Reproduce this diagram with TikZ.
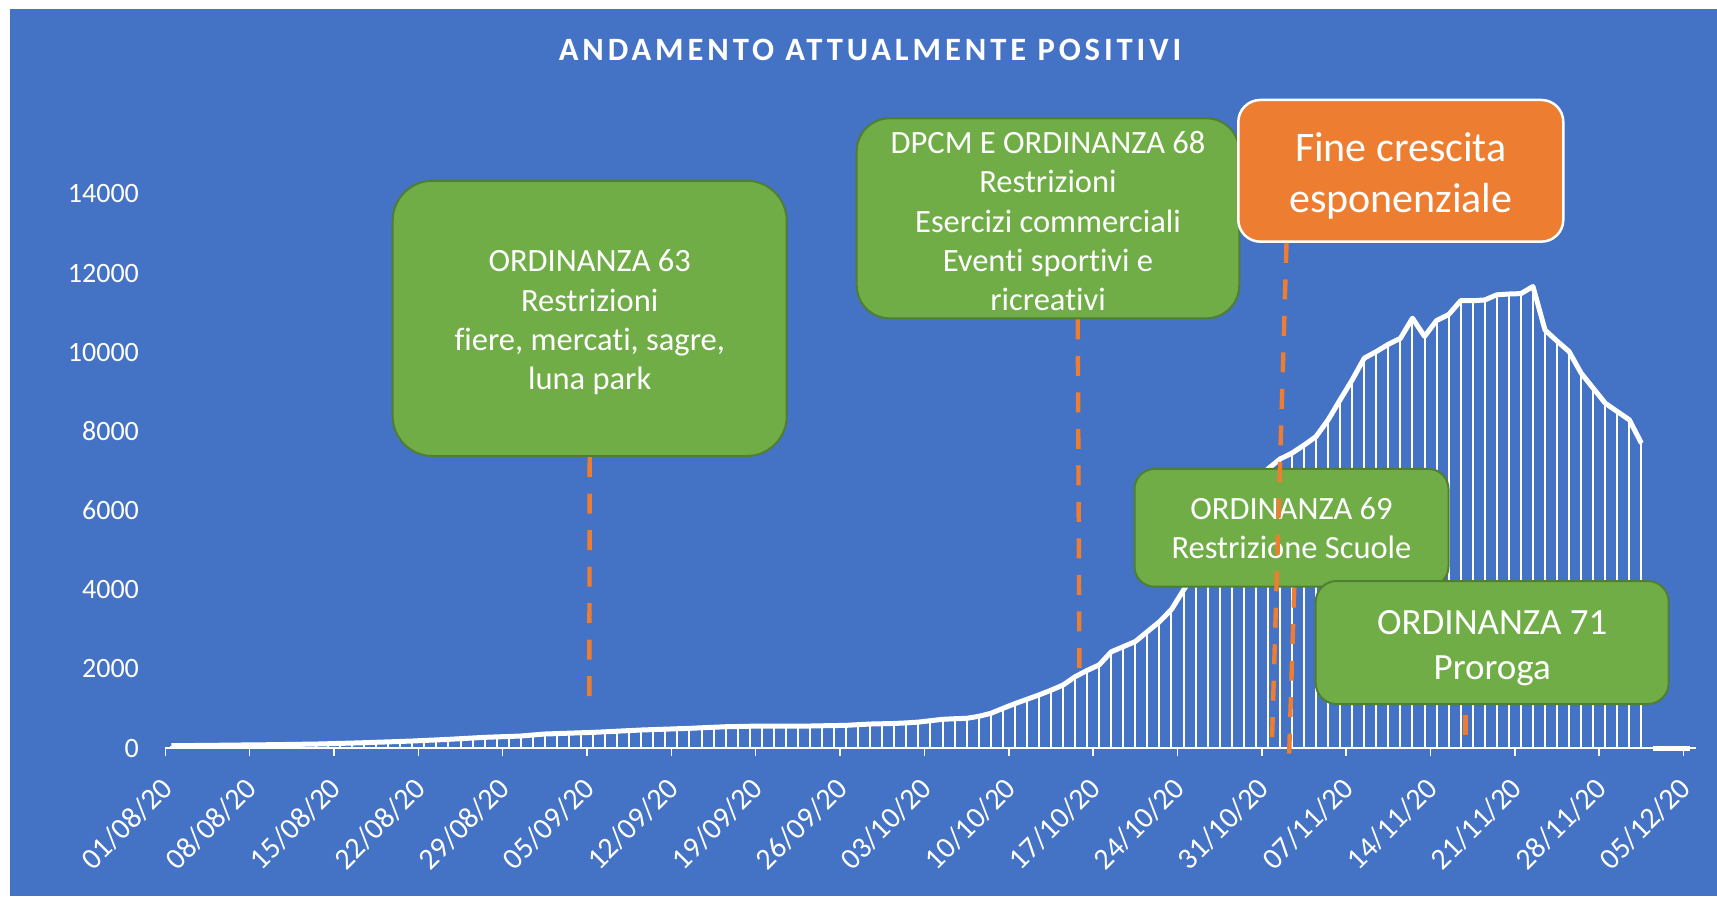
\documentclass[tikz,border=0pt]{standalone}
\usepackage{fontspec}
\setmainfont{Carlito}[Ligatures=NoCommon]

\definecolor{chartblue}{HTML}{4472C4}
\definecolor{boxgreen}{HTML}{70AD47}
\definecolor{boxgreenline}{HTML}{507E32}
\definecolor{boxorange}{HTML}{ED7D31}

% attualmente positivi, one value per day from 01/08/20
\newcommand{\positivi}{58,61,64,67,70,73,77,80,83,87,91,96,100,108,117,125,134,145,155,166,177,191,205,219,236,253,270,281,292,303,329,354,364,375,385,395,410,425,440,455,466,476,487,497,511,524,538,544,550,556,556,556,556,556,562,567,573,590,606,613,620,635,655,690,725,740,750,800,875,1000,1120,1230,1340,1460,1590,1800,1960,2100,2430,2560,2690,2940,3190,3500,3990,4450,4900,5350,5800,6250,6650,7050,7300,7450,7650,7870,8290,8800,9300,9850,10015,10200,10350,10860,10400,10800,10950,11300,11300,11320,11450,11470,11480,11660,10560,10280,10015,9470,9090,8710,8500,8290,7700}

\begin{document}
\begin{tikzpicture}[x=0.5pt, y=-0.5pt,
    ordbox/.style={draw=boxgreenline, line width=1pt, fill=boxgreen, rounded corners=#1, text=white, align=center, inner sep=0pt, font=\fontsize{16.25}{19.6}\selectfont},
    ordbox/.default=10pt,
    dashline/.style={draw=boxorange, line width=2.2pt, dash pattern=on 10pt off 8.25pt},
    bar/.style={white, line width=1pt},
    curve/.style={white, line width=2.5pt, line join=round},
    ylbl/.style={text=white, anchor=east, inner sep=0pt, xshift=-13pt, font=\fontsize{14}{16}\selectfont},
    datelbl/.style={text=white, inner sep=0pt, font=\fontsize{15}{17}\selectfont}]
  \useasboundingbox (0,0) rectangle (1717,896);
  \fill[chartblue] (10,9) rectangle (1717,896);

  \node[text=white, font=\fontsize{16.3}{19}\selectfont\bfseries\addfontfeature{LetterSpace=12}] (title) at (870,49.5) {ANDAMENTO ATTUALMENTE POSITIVI};

  % chart: x = day, y = value
  \begin{scope}[shift={(171.3,748)}, x=6.025pt, y=0.0197855pt]
    \foreach \v in {0,2000,...,14000}
      \node[ylbl] at (-0.5,\v) {\v};
    \draw[white, line width=0.75pt] (-0.5,0) -- (126.5,0);
    \foreach \dd/\mm [count=\k from 0] in {01/08,08/08,15/08,22/08,29/08,05/09,12/09,19/09,26/09,03/10,10/10,17/10,24/10,31/10,07/11,14/11,21/11,28/11,05/12} {
      \draw[white, line width=0.75pt] (7*\k-0.5,0) -- ++(0pt,-4pt);
      \node[datelbl, xshift=-3pt, yshift=-13.5pt, rotate=45, anchor=north east] at (7*\k-0.5,0) {\dd/\mm/20};
    }
    \foreach \v [count=\d from 0] in \positivi
      \draw[bar] (\d,0) -- (\d,\v);
    \draw[curve] (0,58) \foreach \v [count=\d from 0] in \positivi {-- (\d,\v)};
    \draw[curve] (123,0) -- (126,0);
  \end{scope}

  \node[ordbox=20pt, minimum width=197pt, minimum height=137.65pt] (o63) at (589.7,318.4) {\rule{0pt}{15pt}ORDINANZA 63\\Restrizioni\\fiere, mercati, sagre,\\luna park};
  \coordinate (e63) at (589.3,697);
  \draw[dashline] (o63.south) -- (e63);

  \node[ordbox=16.5pt, minimum width=191.3pt, minimum height=100pt] (o68) at (1048,218.3) {\rule{0pt}{14pt}DPCM E ORDINANZA 68\\Restrizioni\\Esercizi commerciali\\Eventi sportivi e\\ricreativi};
  \coordinate (e68) at (1079.5,683);
  \draw[dashline] ([xshift=14.85pt]o68.south) -- (e68);

  \node[draw=white, line width=1.25pt, fill=boxorange, rounded corners=11pt, text=white, align=center, inner sep=0pt, minimum width=162.5pt, minimum height=70.85pt, font=\fontsize{21}{25.2}\selectfont] (fine) at (1400.8,170.8) {\rule{0pt}{19.5pt}Fine crescita\\esponenziale};

  \node[ordbox, minimum width=157pt, minimum height=58.85pt] (o69) at (1291.5,527.8) {ORDINANZA 69\\Restrizione Scuole};
  \coordinate (efine) at (1272,740);
  \draw[dashline] ([xshift=-57.15pt]fine.south) -- (efine);
  \coordinate (e69) at (1289,758);
  \draw[dashline] ([xshift=1.4pt]o69.south) -- (e69);

  \node[ordbox=10.5pt, minimum width=176.5pt, minimum height=61.5pt, font=\fontsize{18.5}{22.6}\selectfont] (o71) at (1492.2,642.5) {\rule{0pt}{18pt}ORDINANZA 71\\Proroga};
  \coordinate (e71) at (1465.3,737);
  \draw[dashline, dash phase=13.25pt] ([xshift=-13.45pt]o71.south) -- (e71);
\end{tikzpicture}
\end{document}
